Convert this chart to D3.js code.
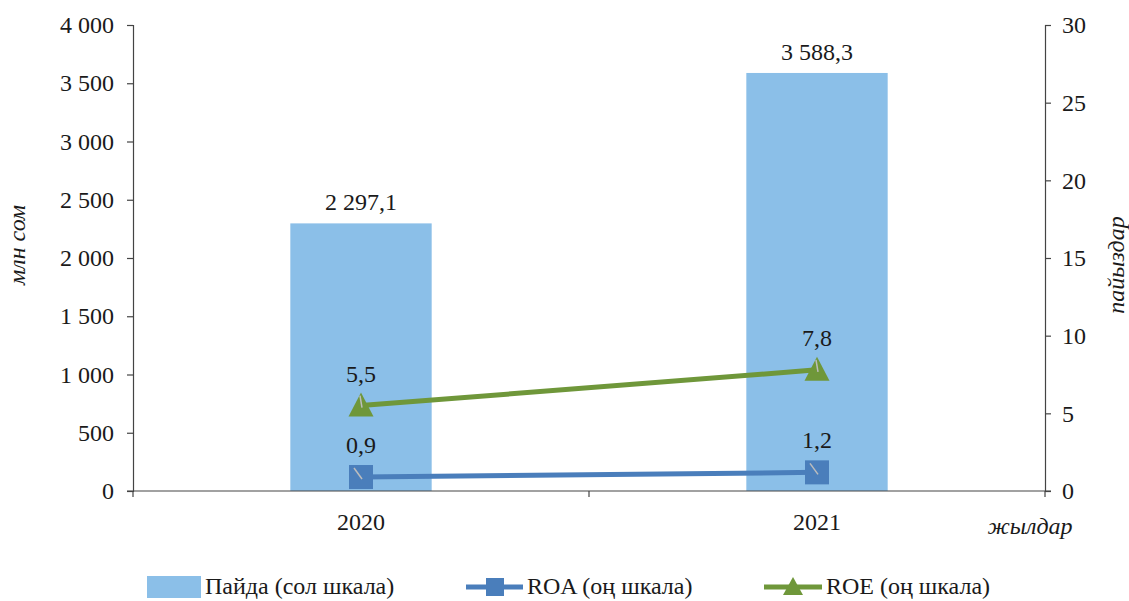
<!DOCTYPE html>
<html>
<head>
<meta charset="utf-8">
<script src="https://cdn.jsdelivr.net/npm/d3@7"></script>
</head>
<body style="margin:0;background:#fff">
<script>
// data
var years = ["2020", "2021"];
var profit = [2297.1, 3588.3];
var roa = [0.9, 1.2];
var roe = [5.5, 7.8];
var leftTicks = [0, 500, 1000, 1500, 2000, 2500, 3000, 3500, 4000];
var rightTicks = [0, 5, 10, 15, 20, 25, 30];

var W = 1129, H = 601;
var FONT = "Liberation Serif";
var margin = { top: 25, right: 84, bottom: 110, left: 133 },
    width = W - margin.left - margin.right,
    height = H - margin.top - margin.bottom;

var fmtSpace = function (v) {
  return d3.format(",")(v).replace(/,/g, " ");
};
var fmtDec = function (v) {
  return d3.format(",.1f")(v).replace(/,/g, " ").replace(".", ",");
};

var svg = d3.select("body").append("svg")
    .attr("width", W).attr("height", H)
    .attr("font-family", FONT)
    .attr("font-size", 24);
var g = svg.append("g")
    .attr("transform", "translate(" + margin.left + "," + margin.top + ")");

var x = d3.scaleBand().domain(years).range([0, width]);
var yL = d3.scaleLinear().domain([0, 4000]).range([height, 0]);
var yR = d3.scaleLinear().domain([0, 30]).range([height, 0]);

var barW = x.bandwidth() * 0.31;
var cx = function (d, i) { return x(years[i]) + x.bandwidth() / 2; };

// bars
g.selectAll(".bar").data(profit).enter().append("rect")
    .attr("x", function (d, i) { return cx(d, i) - barW / 2; })
    .attr("y", function (d) { return yL(d); })
    .attr("width", barW)
    .attr("height", function (d) { return height - yL(d); })
    .style("fill", "#8BBFE8");

g.selectAll(".barlbl").data(profit).enter().append("text")
    .attr("x", cx)
    .attr("y", function (d) { return yL(d) - 13; })
    .attr("text-anchor", "middle")
    .text(fmtDec);

// axes
var axisL = g.append("g").call(d3.axisLeft(yL).tickValues(leftTicks).tickSize(6).tickFormat(fmtSpace));
var axisR = g.append("g").attr("transform", "translate(" + width + ",0)")
    .call(d3.axisRight(yR).tickValues(rightTicks).tickSize(6));
var axisX = g.append("g").attr("transform", "translate(0," + height + ")")
    .call(d3.axisBottom(x).tickSize(0).tickPadding(22));

[axisL, axisR, axisX].forEach(function (a) {
  a.attr("font-family", FONT).attr("font-size", 24);
  a.selectAll("path, line").style("stroke", "#444").style("stroke-width", 1.2);
});
axisL.selectAll("text").attr("dx", "-10");
axisR.selectAll("text").attr("dx", "8");
axisX.select(".domain").attr("d", "M-6,0H" + (width + 6));

// category boundary ticks
g.selectAll(".xt").data(d3.range(years.length + 1)).enter().append("line")
    .attr("x1", function (d) { return d * x.bandwidth(); })
    .attr("x2", function (d) { return d * x.bandwidth(); })
    .attr("y1", height).attr("y2", height + 6)
    .style("stroke", "#444").style("stroke-width", 1.2);

// lines
var line = function (arr) {
  return d3.line().x(function (d, i) { return cx(d, i); }).y(function (d) { return yR(d); })(arr);
};
var series = [
  { vals: roe, color: "#6F973A", marker: "tri" },
  { vals: roa, color: "#4A7EBB", marker: "sq" }
];
series.forEach(function (s) {
  g.append("path").attr("d", line(s.vals))
      .style("fill", "none").style("stroke", s.color).style("stroke-width", 5);
  s.vals.forEach(function (v, i) {
    var px = cx(v, i), py = yR(v);
    if (s.marker === "sq") {
      g.append("rect").attr("x", px - 12).attr("y", py - 12)
          .attr("width", 24).attr("height", 24).style("fill", s.color);
    } else {
      g.append("path")
          .attr("d", "M" + px + "," + (py - 13) + "L" + (px + 12.5) + "," + (py + 11) + "L" + (px - 12.5) + "," + (py + 11) + "Z")
          .style("fill", s.color);
    }
  });
});

// point labels with leader lines
var ptLabels = [
  { vals: roe, dy: -24, lead: [[-1, -10], [1, 2]] },
  { vals: roa, dy: -24, lead: [[-7, -9], [1, 2]] }
];
ptLabels.forEach(function (p) {
  p.vals.forEach(function (v, i) {
    var px = cx(v, i), py = yR(v);
    g.append("line")
        .attr("x1", px + p.lead[0][0]).attr("y1", py + p.lead[0][1])
        .attr("x2", px + p.lead[1][0]).attr("y2", py + p.lead[1][1])
        .style("stroke", "#bdbdbd").style("stroke-width", 1.5);
    g.append("text").attr("x", px).attr("y", py + p.dy)
        .attr("text-anchor", "middle")
        .text(fmtDec(v));
  });
});

// axis titles
svg.append("text")
    .attr("transform", "translate(25," + (margin.top + 220) + ") rotate(-90)")
    .attr("text-anchor", "middle").style("font-style", "italic")
    .text("млн сом");
svg.append("text")
    .attr("transform", "translate(1124," + (margin.top + 240) + ") rotate(-90)")
    .attr("text-anchor", "middle").style("font-style", "italic")
    .text("пайыздар");
svg.append("text")
    .attr("x", 1030).attr("y", 534)
    .attr("text-anchor", "middle").style("font-style", "italic")
    .text("жылдар");

// legend
var legend = svg.append("g").attr("transform", "translate(0,587)");
legend.append("rect").attr("x", 147).attr("y", -11).attr("width", 54).attr("height", 22).style("fill", "#8BBFE8");
legend.append("text").attr("x", 205).attr("y", 7).text("Пайда (сол шкала)");

legend.append("line").attr("x1", 466).attr("x2", 523).attr("y1", 0).attr("y2", 0)
    .style("stroke", "#4A7EBB").style("stroke-width", 5);
legend.append("rect").attr("x", 486).attr("y", -9).attr("width", 18).attr("height", 18).style("fill", "#4A7EBB");
legend.append("text").attr("x", 527).attr("y", 7).text("ROA (оң шкала)");

legend.append("line").attr("x1", 764).attr("x2", 822).attr("y1", 0).attr("y2", 0)
    .style("stroke", "#6F973A").style("stroke-width", 5);
legend.append("path").attr("d", "M793,-10L803,8L783,8Z").style("fill", "#6F973A");
legend.append("text").attr("x", 826).attr("y", 7).text("ROE (оң шкала)");

// common text style
svg.selectAll("text")
    .attr("font-family", FONT)
    .style("font-family", function () { return "'" + FONT + "'"; })
    .style("fill", "#1a1a1a");
</script>
</body>
</html>
